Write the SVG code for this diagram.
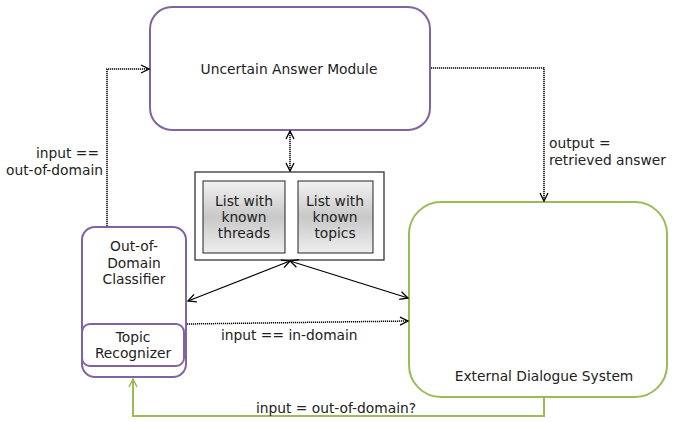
<svg xmlns="http://www.w3.org/2000/svg" width="675" height="422" viewBox="0 0 675 422">
  <defs>
    <linearGradient id="listFill" x1="0" y1="0" x2="0" y2="1">
      <stop offset="0" stop-color="#f2f2f2"/>
      <stop offset="0.5" stop-color="#c8c8c8"/>
      <stop offset="1" stop-color="#eeeeee"/>
    </linearGradient>
    <marker id="open" viewBox="0 0 10 10" refX="9" refY="5" markerWidth="10" markerHeight="10" markerUnits="userSpaceOnUse" orient="auto-start-reverse">
      <path d="M1,1 L9,5 L1,9" fill="none" stroke="#000" stroke-width="1.3"/>
    </marker>
    <marker id="openGreen" viewBox="0 0 10 10" refX="9" refY="5" markerWidth="10" markerHeight="10" markerUnits="userSpaceOnUse" orient="auto">
      <path d="M1,1 L9,5 L1,9" fill="none" stroke="#9bbb59" stroke-width="1.6"/>
    </marker>
  </defs>
  <style>
    text { font-family: "DejaVu Sans", sans-serif; font-size: 13.8px; fill: #222; }
    .mid { text-anchor: middle; }
    .end { text-anchor: end; }
    .purple { fill: #fff; stroke: #8064a2; stroke-width: 2; }
    .green { fill: #fff; stroke: #9bbb59; stroke-width: 2; }
    .dotted { fill: none; stroke: #000; stroke-width: 1.5; stroke-dasharray: 1.2 0.8; }
    .solid { fill: none; stroke: #000; stroke-width: 1.2; }
    .feedback { fill: none; stroke: #9bbb59; stroke-width: 2; }
  </style>

  <rect width="675" height="422" fill="#fff"/>

  <g id="uncertain-answer-module">
    <rect class="purple" x="150" y="7" width="280" height="123" rx="22"/>
    <text class="mid" x="289" y="74">Uncertain Answer Module</text>
  </g>

  <g id="knowledge-lists">
    <rect x="195" y="172" width="189" height="88" fill="#fff" stroke="#222" stroke-width="1.2"/>
    <g id="known-threads">
      <rect x="203" y="181" width="82" height="72" fill="url(#listFill)" stroke="#222" stroke-width="1"/>
      <text class="mid" x="244" y="206">List with</text>
      <text class="mid" x="244" y="222">known</text>
      <text class="mid" x="244" y="238">threads</text>
    </g>
    <g id="known-topics">
      <rect x="298" y="181" width="75" height="72" fill="url(#listFill)" stroke="#222" stroke-width="1"/>
      <text class="mid" x="335" y="206">List with</text>
      <text class="mid" x="335" y="222">known</text>
      <text class="mid" x="335" y="238">topics</text>
    </g>
  </g>

  <g id="out-of-domain-classifier">
    <rect class="purple" x="82" y="227" width="104" height="150" rx="13"/>
    <text class="mid" x="134" y="251">Out-of-</text>
    <text class="mid" x="134" y="268">Domain</text>
    <text class="mid" x="134" y="284">Classifier</text>
    <g id="topic-recognizer">
      <rect class="purple" x="82" y="324" width="102" height="42" rx="8"/>
      <text class="mid" x="133" y="342">Topic</text>
      <text class="mid" x="133" y="358">Recognizer</text>
    </g>
  </g>

  <g id="external-dialogue-system">
    <rect class="green" x="409" y="202" width="258" height="195" rx="32"/>
    <text class="mid" x="544" y="381">External Dialogue System</text>
  </g>

  <g id="connectors">
    <!-- classifier to answer module when out of domain -->
    <path class="dotted" d="M107,226 V69 H149" marker-end="url(#open)"/>
    <text class="end" x="99" y="158">input ==</text>
    <text class="end" x="103" y="175">out-of-domain</text>

    <!-- answer module output to dialogue system -->
    <path class="dotted" d="M431,68 H544 V201" marker-end="url(#open)"/>
    <text x="549" y="148">output =</text>
    <text x="549" y="165">retrieved answer</text>

    <!-- answer module to lists -->
    <path class="dotted" d="M290,131 V171" marker-start="url(#open)" marker-end="url(#open)"/>

    <!-- lists to classifier and dialogue system -->
    <path class="solid" d="M290,261 L188,301" marker-start="url(#open)" marker-end="url(#open)"/>
    <path class="solid" d="M290,261 L408,298" marker-start="url(#open)" marker-end="url(#open)"/>

    <!-- in-domain input -->
    <path class="dotted" d="M187,324 L408,321" marker-end="url(#open)"/>
    <text x="221" y="340">input == in-domain</text>

    <!-- feedback loop -->
    <path class="feedback" d="M544,398 V416 H133 V379" marker-end="url(#openGreen)"/>
    <text class="mid" x="336" y="413">input = out-of-domain?</text>
  </g>
</svg>
